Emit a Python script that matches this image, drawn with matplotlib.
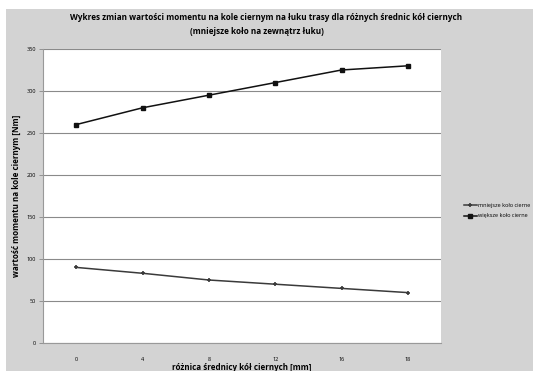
import matplotlib
matplotlib.use('Agg')
import matplotlib.pyplot as plt
from matplotlib.patches import Rectangle

# roznica srednicy kol ciernych [mm]
categories = ['0', '4', '8', '12', '16', '18']
mniejsze = [90, 83, 75, 70, 65, 60]
wieksze = [260, 280, 295, 310, 325, 330]
y_ticks = [0, 50, 100, 150, 200, 250, 300, 350]

plt.rcParams['font.family'] = ['Open Sans', 'DejaVu Sans']

fig = plt.figure(figsize=(5.33, 3.71), dpi=100)
fig.patch.set_facecolor('white')
# grey chart area like the excel export
fig.patches.append(Rectangle((6 / 533, 0), 1, (371 - 9) / 371, transform=fig.transFigure,
                             facecolor='#d3d3d3', edgecolor='none', zorder=-10))

ax = fig.add_axes([43 / 533, 28 / 371, 398 / 533, 294 / 371])
ax.set_zorder(1)
ax.set_facecolor('white')

x = range(len(categories))
ax.plot(x, mniejsze, color='#3a3a3a', lw=1.1, marker='+', ms=3.5, mew=1.2,
        label='mniejsze koło cierne')
ax.plot(x, wieksze, color='#111111', lw=1.1, marker='s', ms=3,
        label='większe koło cierne')

ax.set_xlim(-0.5, len(categories) - 0.5)
ax.set_ylim(0, 350)
ax.set_yticks(y_ticks)
ax.set_xticks(list(x))
ax.set_xticklabels(categories)
ax.tick_params(axis='x', length=0, labelsize=4, pad=10)
ax.tick_params(axis='y', length=3, width=0.6, color='#888888', labelsize=4, pad=2)
ax.grid(axis='y', color='#8a8a8a', lw=0.8)
ax.set_axisbelow(True)
for s in ['top', 'right']:
    ax.spines[s].set_visible(False)
for s in ['left', 'bottom']:
    ax.spines[s].set_color('#999999')
    ax.spines[s].set_linewidth(0.8)

ax.set_xlabel('różnica średnicy kół ciernych [mm]', fontsize=5.8, fontweight='bold', labelpad=1)
ax.set_ylabel('wartość momentu na kole ciernym [Nm]', fontsize=5.8, fontweight='bold', labelpad=4)

fig.text(266 / 533, 1 - 17 / 371,
         'Wykres zmian wartości momentu na kole ciernym na łuku trasy dla różnych średnic kół ciernych',
         ha='center', va='center', fontsize=5.9, fontweight='bold')
fig.text(257 / 533, 1 - 31 / 371, '(mniejsze koło na zewnątrz łuku)',
         ha='center', va='center', fontsize=5.9, fontweight='bold')

ax.legend(loc='center left', bbox_to_anchor=(1.045, 0.45), frameon=False, fontsize=4,
          handlelength=2.3, labelspacing=1.0, handletextpad=0.3)

fig.savefig('out.png', dpi=100)
